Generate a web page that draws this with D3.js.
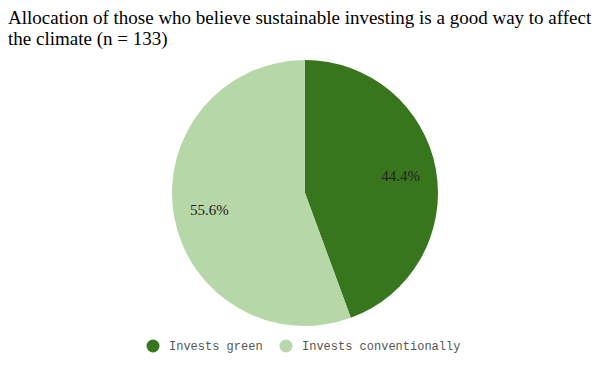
<!DOCTYPE html>
<html>
<head>
<meta charset="utf-8">
<script src="https://cdn.jsdelivr.net/npm/d3@7"></script>
<style>
  html, body { margin: 0; padding: 0; background: #fff; }
  svg { display: block; }
</style>
</head>
<body>
<svg id="chart" width="597" height="370"></svg>
<script>
// Share of respondents by allocation choice
const categories = ["Invests green", "Invests conventionally"];
const values = [44.4, 55.6];
const colors = ["#38761d", "#b6d7a8"];
const titleLines = [
  "Allocation of those who believe sustainable investing is a good way to affect",
  "the climate (n = 133)"
];

const svg = d3.select("#chart");
const W = 597, H = 370;
const cx = 305, cy = 193, r = 133;

svg.append("rect").attr("width", W).attr("height", H).attr("fill", "#fff");

// Title
svg.append("g")
  .selectAll("text")
  .data(titleLines)
  .join("text")
  .attr("x", 8)
  .attr("y", (d, i) => 24 + i * 21)
  .attr("font-family", "'Liberation Serif', 'Times New Roman', serif")
  .attr("font-size", 19)
  .attr("fill", "#000")
  .text(d => d);

const data = categories.map((c, i) => ({ name: c, value: values[i], color: colors[i] }));

const pie = d3.pie().value(d => d.value).sort(null);
const arc = d3.arc().innerRadius(0).outerRadius(r);
const labelArc = d3.arc().innerRadius(r * 0.73).outerRadius(r * 0.73);

const g = svg.append("g").attr("transform", `translate(${cx},${cy})`);
const arcs = pie(data);

g.selectAll("path")
  .data(arcs)
  .join("path")
  .attr("d", arc)
  .attr("fill", d => d.data.color);

g.selectAll("text")
  .data(arcs)
  .join("text")
  .attr("transform", d => `translate(${labelArc.centroid(d)})`)
  .attr("text-anchor", "middle")
  .attr("dy", "0.35em")
  .attr("font-family", "'Liberation Serif', 'Times New Roman', serif")
  .attr("font-size", 15)
  .attr("fill", "#222")
  .text(d => d.data.value.toFixed(1) + "%");

// Legend
const legendX = [153, 286];
const legend = svg.append("g")
  .selectAll("g")
  .data(data)
  .join("g")
  .attr("transform", (d, i) => `translate(${legendX[i]},346)`);

legend.append("circle")
  .attr("r", 6.5)
  .attr("fill", d => d.color);

legend.append("text")
  .attr("x", 16)
  .attr("dy", "0.35em")
  .attr("font-family", "'Liberation Mono', 'Courier New', monospace")
  .attr("font-size", 12)
  .attr("fill", "#555")
  .text(d => d.name);
</script>
</body>
</html>
